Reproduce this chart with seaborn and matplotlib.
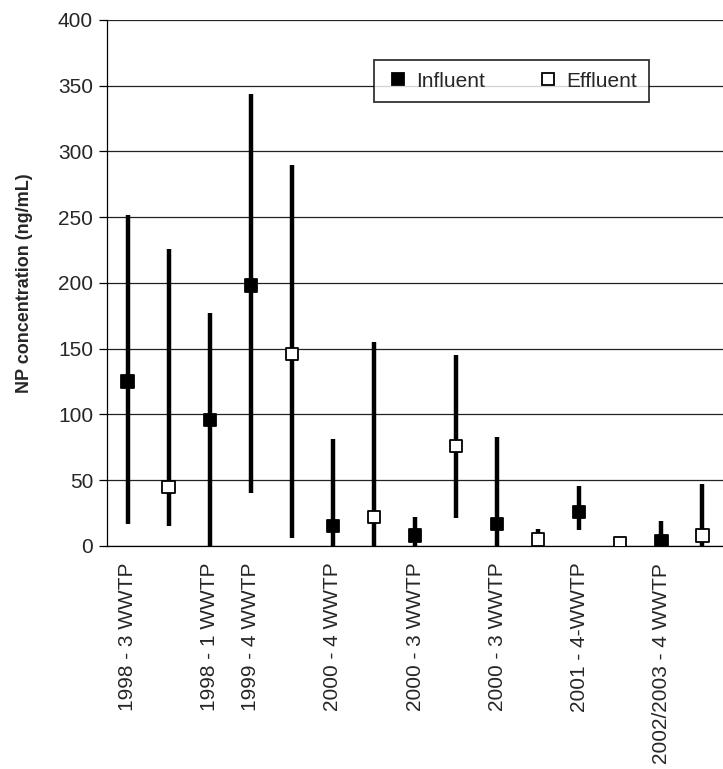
import numpy as np
import pandas as pd
import seaborn as sns
import matplotlib.pyplot as plt

# one slot per sample, influent/effluent pairs per campaign
labels = ["1998 - 3 WWTP", "", "1998 - 1 WWTP", "1999 - 4 WWTP", "", "2000 - 4 WWTP", "",
          "2000 - 3 WWTP", "", "2000 - 3 WWTP", "", "2001 - 4-WWTP", "", "2002/2003 - 4 WWTP", ""]
sample_type = ["Influent", "Effluent", "Influent", "Influent", "Effluent", "Influent", "Effluent",
               "Influent", "Effluent", "Influent", "Effluent", "Influent", "Effluent", "Influent", "Effluent"]
mean_conc = [125, 45, 96, 198, 146, 15, 22, 8, 76, 17, 5, 26, 2, 4, 8]
low_conc = [17, 15, 0, 40, 6, 0, 0, 0, 21, 0, 3, 12, 0, 0, 0]
high_conc = [252, 226, 177, 344, 290, 81, 155, 22, 145, 83, 13, 46, 3, 19, 47]

df = pd.DataFrame({"pos": np.arange(len(labels)), "label": labels, "type": sample_type,
                   "mean": mean_conc, "low": low_conc, "high": high_conc})

sns.set_style("white")
plt.rcParams['font.family'] = ['Liberation Sans', 'DejaVu Sans']

fig = plt.figure(figsize=(7.23, 7.69), dpi=100)
ax = fig.add_axes([0.148, 0.29, 0.852, 0.684])

ax.vlines(df["pos"], df["low"], df["high"], color="black", linewidth=3.2, zorder=3)
sns.scatterplot(data=df, x="pos", y="mean", hue="type", style="type",
                hue_order=["Influent", "Effluent"],
                palette={"Influent": "black", "Effluent": "white"},
                markers={"Influent": "s", "Effluent": "s"},
                s=78, edgecolor="black", linewidth=1.3, zorder=4, ax=ax)

ax.set_ylim(0, 400)
ax.set_yticks(np.arange(0, 401, 50))
ax.set_xlim(-0.5, 14.34)
ax.yaxis.grid(True, color="#222222", linewidth=0.9)
ax.set_axisbelow(True)

# tick marks between slots, labels at slot centres
ax.set_xticks(np.arange(-0.5, 15, 1))
ax.set_xticklabels([])
ax.set_xticks(df["pos"], minor=True)
ax.set_xticklabels(df["label"], minor=True, rotation=90, fontsize=15)
ax.tick_params(axis="x", which="major", direction="inout", length=13, width=0.9, color="black")
ax.tick_params(axis="x", which="minor", length=0, pad=12)
ax.tick_params(axis="y", direction="out", length=6, width=0.9, color="black", labelsize=15, pad=4, left=True)

for side in ["top", "right"]:
    ax.spines[side].set_visible(False)
for side in ["left", "bottom"]:
    ax.spines[side].set_color("black")
    ax.spines[side].set_linewidth(0.9)

ax.set_xlabel("")
ax.set_ylabel("NP concentration (ng/mL)", fontsize=13, fontweight="bold")
ax.yaxis.set_label_coords(-0.12, 0.5)

handles, hlabels = ax.get_legend_handles_labels()
leg = ax.legend(handles, hlabels, loc="center", bbox_to_anchor=(0.656, 0.884), ncol=2,
                fontsize=15, frameon=True, fancybox=False, edgecolor="black",
                columnspacing=2.4, handletextpad=0.3, handlelength=1.2,
                borderpad=0.55, markerscale=0.9)
leg.get_frame().set_linewidth(1.3)

fig.savefig("out.png", dpi=100)
